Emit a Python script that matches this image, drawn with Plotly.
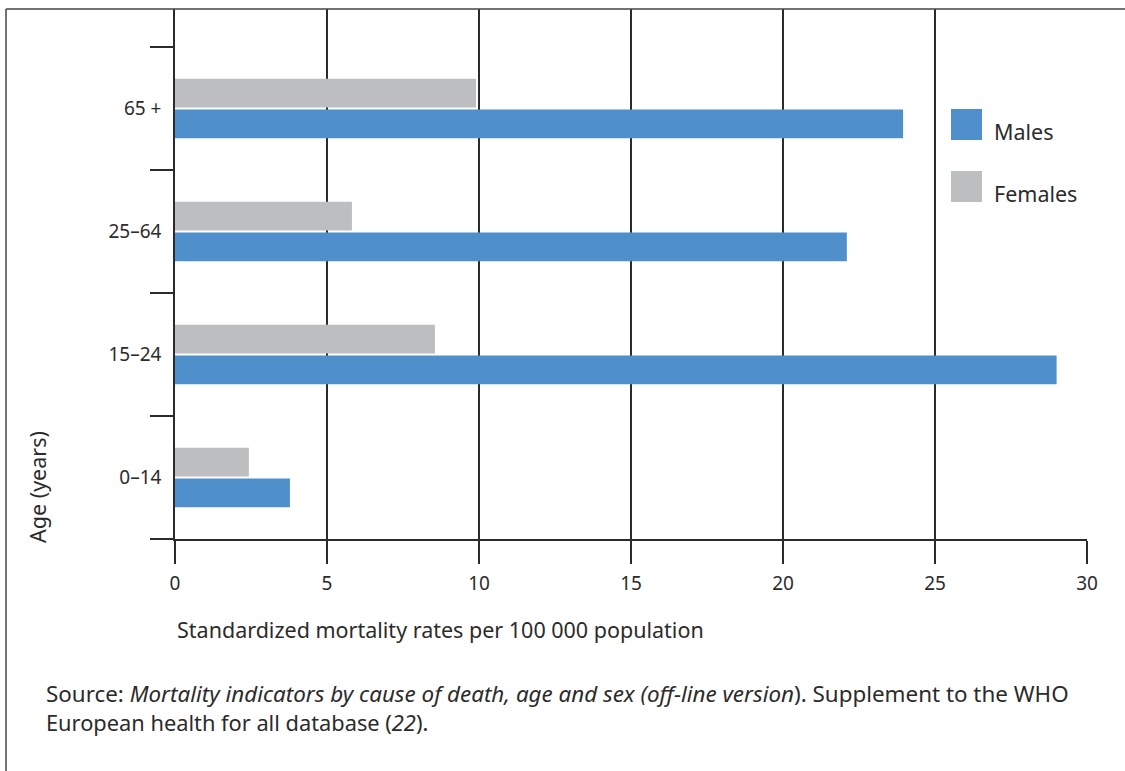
import plotly.graph_objects as go

categories = ["0\u201314", "15\u201324", "25\u201364", "65 +"]
males = [3.78, 29.0, 22.1, 23.95]
females = [2.43, 8.55, 5.82, 9.9]
x_ticks = [0, 5, 10, 15, 20, 25, 30]

BLUE = "#4F8FCC"
GREY = "#BDBEC0"
INK = "#2b2b2b"
FONT = "Noto Sans"

pos = list(range(len(categories)))

fig = go.Figure()
fig.add_trace(go.Bar(y=pos, x=males, orientation="h", name="Males",
                     marker=dict(color=BLUE, line=dict(width=0)), showlegend=False))
fig.add_trace(go.Bar(y=pos, x=females, orientation="h", name="Females",
                     marker=dict(color=GREY, line=dict(width=0)), showlegend=False))

L, R, T, B = 175, 38, 9, 232
W, H = 1125, 771
pw, ph = W - L - R, H - T - B

def px(x):
    return (x - L) / pw

def py(y):
    return 1 - (y - T) / ph

fig.update_layout(
    width=W, height=H,
    margin=dict(l=L, r=R, t=T, b=B, pad=0),
    paper_bgcolor="white", plot_bgcolor="white",
    barmode="group", bargap=0.5, bargroupgap=0.06,
    font=dict(family=FONT, color=INK, size=19),
    xaxis=dict(range=[0, 30], tickvals=x_ticks, showgrid=True, gridcolor=INK, gridwidth=1.5,
               zeroline=False, showline=True, linecolor=INK, linewidth=1.5,
               ticks="outside", ticklen=23, tickwidth=1.5, tickcolor=INK,
               ticklabelstandoff=3,
               tickfont=dict(size=19, color=INK, family=FONT), fixedrange=True),
    yaxis=dict(range=[-0.5, 3.809], tickvals=pos, ticktext=categories,
               ticks="", showgrid=False, zeroline=False,
               showline=True, linecolor=INK, linewidth=1.5,
               ticklabelstandoff=8,
               tickfont=dict(size=19, color=INK, family=FONT),
               minor=dict(tickvals=[-0.5, 0.5, 1.5, 2.5, 3.5], ticks="outside",
                          ticklen=23, tickwidth=1.5, tickcolor=INK, showgrid=False),
               fixedrange=True),
)

# frame
fig.add_shape(type="line", xref="paper", yref="paper", x0=px(6), x1=px(W + 5), y0=1, y1=1,
              line=dict(color="#444", width=1.5))
fig.add_shape(type="line", xref="paper", yref="paper", x0=px(6), x1=px(6), y0=1, y1=py(H + 5),
              line=dict(color="#444", width=1.5))

# legend
for name, col, y0, y1 in [("Males", BLUE, 109, 140), ("Females", GREY, 171, 202)]:
    fig.add_shape(type="rect", xref="paper", yref="paper", x0=px(951), x1=px(982),
                  y0=py(y1), y1=py(y0), fillcolor=col, line=dict(width=0))
    fig.add_annotation(xref="paper", yref="paper", x=px(992), y=py((y0 + y1) / 2 + 7),
                       text=name, showarrow=False, xanchor="left", yanchor="middle",
                       font=dict(size=21.5, color=INK, family=FONT))

# axis titles
fig.add_annotation(xref="paper", yref="paper", x=px(175), y=py(629),
                   text="Standardized mortality rates per 100 000 population",
                   showarrow=False, xanchor="left", yanchor="middle",
                   font=dict(size=21.5, color=INK, family=FONT))
fig.add_annotation(xref="paper", yref="paper", x=px(37), y=py(487),
                   text="Age (years)", textangle=-90,
                   showarrow=False, xanchor="center", yanchor="middle",
                   font=dict(size=21.5, color=INK, family=FONT))

# source
fig.add_annotation(xref="paper", yref="paper", x=px(44), y=py(693),
                   text="Source: <i>Mortality indicators by cause of death, age and sex (off-line version</i>). Supplement to the WHO",
                   showarrow=False, xanchor="left", yanchor="middle",
                   font=dict(size=22.4, color=INK, family=FONT))
fig.add_annotation(xref="paper", yref="paper", x=px(44), y=py(722),
                   text="European health for all database (<i>22</i>).",
                   showarrow=False, xanchor="left", yanchor="middle",
                   font=dict(size=21.8, color=INK, family=FONT))

fig.write_html("out.html", config={"displayModeBar": False},
               post_script="document.body.style.margin='0px';")
